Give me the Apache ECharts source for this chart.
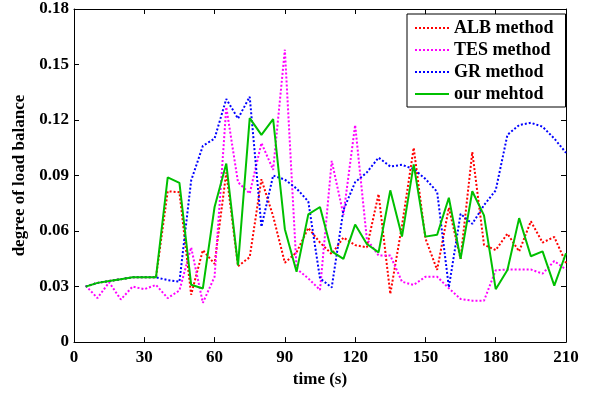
<!DOCTYPE html>
<html>
<head>
<meta charset="utf-8">
<script src="https://cdn.jsdelivr.net/npm/echarts@6/dist/echarts.min.js"></script>
<style>html,body{margin:0;padding:0;background:#fff;}#c{width:592px;height:393px;}</style>
</head>
<body>
<div id="c"></div>
<script>
const times = [5,10,15,20,25,30,35,40,45,50,55,60,65,70,75,80,85,90,95,100,105,110,115,120,125,130,135,140,145,150,155,160,165,170,175,180,185,190,195,200,205,210];
const albValues = [0.030,0.032,0.033,0.034,0.035,0.035,0.035,0.0815,0.081,0.0256,0.0497,0.0423,0.0917,0.041,0.0459,0.088,0.068,0.0429,0.0485,0.0617,0.0538,0.0476,0.0565,0.0524,0.0512,0.080,0.026,0.063,0.105,0.056,0.039,0.0727,0.045,0.1027,0.0526,0.0497,0.0586,0.049,0.0653,0.0538,0.0568,0.0427];
const tesValues = [0.0305,0.0238,0.0323,0.023,0.030,0.0286,0.0309,0.0238,0.0279,0.0512,0.0212,0.0353,0.127,0.0864,0.0803,0.1076,0.0931,0.158,0.0397,0.0344,0.0282,0.0979,0.0688,0.1173,0.0556,0.0468,0.0468,0.0326,0.0309,0.0353,0.0353,0.0291,0.0233,0.0224,0.0224,0.0388,0.0392,0.0392,0.0392,0.037,0.0438,0.0392];
const grValues = [0.030,0.032,0.033,0.034,0.035,0.035,0.035,0.0335,0.0326,0.0873,0.106,0.110,0.1314,0.1208,0.1326,0.0623,0.090,0.0878,0.083,0.076,0.0344,0.0295,0.0714,0.0864,0.0917,0.0997,0.0949,0.0958,0.0935,0.0882,0.0812,0.0296,0.0693,0.0639,0.074,0.082,0.112,0.1173,0.1185,0.1164,0.110,0.1023];
const ourValues = [0.030,0.032,0.033,0.034,0.035,0.035,0.035,0.089,0.086,0.031,0.029,0.073,0.0965,0.0415,0.121,0.112,0.1205,0.061,0.038,0.069,0.073,0.049,0.045,0.0635,0.053,0.0485,0.082,0.057,0.096,0.057,0.058,0.078,0.045,0.0815,0.0685,0.0286,0.039,0.067,0.0464,0.049,0.0305,0.048];
const seriesNames = ['ALB method','TES method','GR method','our mehtod'];
const xTitle = 'time (s)';
const yTitle = 'degree of load balance';

const font = '"Liberation Serif","Times New Roman",serif';
const pair = (vals) => times.map((t,i)=>[t, vals[i]]);
const chart = echarts.init(document.getElementById('c'), null, {renderer:'canvas'});
const axisLine = {show:true, onZero:false, lineStyle:{color:'#000', width:1}};
const tick = {show:true, inside:true, length:5, lineStyle:{color:'#000'}};
const labelStyle = {fontFamily:font, fontWeight:'bold', fontSize:17, color:'#000'};
chart.setOption({
  animation:false,
  backgroundColor:'#fff',
  grid:{left:74, right:26, top:9, bottom:46, containLabel:false},
  legend:{
    orient:'vertical', left:407, top:14, z:10,
    padding:[5,12,4,7], itemGap:4, itemWidth:34, itemHeight:14,
    borderColor:'#000', borderWidth:1, backgroundColor:'#fff',
    itemStyle:{opacity:0, borderWidth:0},
    textStyle:{fontFamily:font, fontWeight:'bold', fontSize:18, color:'#000'},
    data:seriesNames
  },
  xAxis:[
    {type:'value', min:0, max:210, interval:30, position:'bottom',
     name:xTitle, nameLocation:'middle', nameGap:27,
     nameTextStyle:labelStyle,
     axisLine:axisLine, axisTick:tick, splitLine:{show:false},
     axisLabel:Object.assign({margin:7}, labelStyle)},
    {type:'value', min:0, max:210, interval:30, position:'top',
     axisLine:axisLine, axisTick:tick, splitLine:{show:false}, axisLabel:{show:false}}
  ],
  yAxis:[
    {type:'value', min:0, max:0.18, interval:0.03, position:'left',
     name:yTitle, nameLocation:'middle', nameGap:40,
     nameTextStyle:labelStyle,
     axisLine:axisLine, axisTick:tick, splitLine:{show:false},
     axisLabel:Object.assign({margin:5,
       formatter:v=> Math.abs(v)<1e-9 ? '0' : v.toFixed(2)}, labelStyle)},
    {type:'value', min:0, max:0.18, interval:0.03, position:'right',
     axisLine:axisLine, axisTick:tick, splitLine:{show:false}, axisLabel:{show:false}}
  ],
  series:[
    {name:seriesNames[0], type:'line', data:pair(albValues), showSymbol:false, symbol:'none',
     lineStyle:{color:'#ff0000', width:2, type:[2,2]}, itemStyle:{color:'#ff0000'}},
    {name:seriesNames[1], type:'line', data:pair(tesValues), showSymbol:false, symbol:'none',
     lineStyle:{color:'#ff00ff', width:2, type:[2,2]}, itemStyle:{color:'#ff00ff'}},
    {name:seriesNames[2], type:'line', data:pair(grValues), showSymbol:false, symbol:'none',
     lineStyle:{color:'#0000ff', width:2, type:[2,2]}, itemStyle:{color:'#0000ff'}},
    {name:seriesNames[3], type:'line', data:pair(ourValues), showSymbol:false, symbol:'none',
     lineStyle:{color:'#00c000', width:2, type:'solid'}, itemStyle:{color:'#00c000'}}
  ]
});
</script>
</body>
</html>
